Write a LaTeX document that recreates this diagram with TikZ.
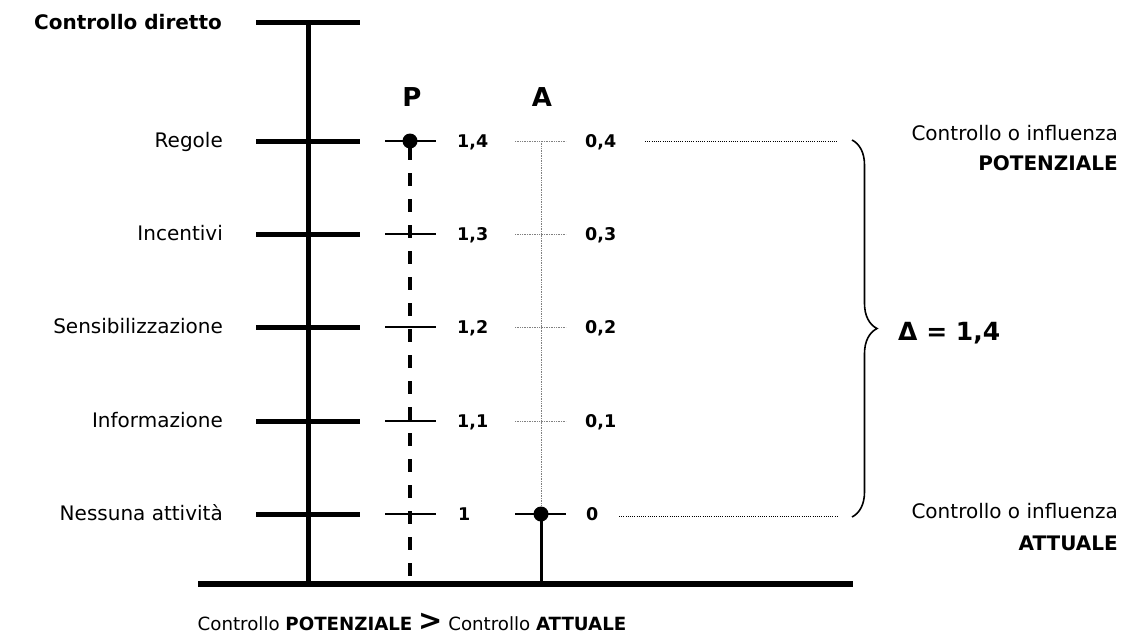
\documentclass[tikz,border=0pt]{standalone}
\usepackage{fontspec}
\setmainfont{DejaVu Sans}
\usetikzlibrary{decorations.pathreplacing}
\begin{document}
\begin{tikzpicture}[x=1pt,y=-1pt,
  lbl/.style={inner sep=0pt,font=\fontsize{20}{24}\selectfont},
  num/.style={inner sep=0pt,anchor=base west,font=\fontsize{17.5}{21}\selectfont\bfseries},
  colhead/.style={inner sep=0pt,anchor=base,font=\fontsize{26}{30}\selectfont\bfseries},
  thicktick/.style={line width=5pt},
  ptick/.style={line width=1.6pt},
  atick/.style={line width=0.8pt,gray,dash pattern=on 1pt off 0.7pt},
  guide/.style={line width=0.9pt,dash pattern=on 1pt off 1.2pt},
  dot/.style={circle,fill=black,inner sep=0pt,minimum size=15pt}]
\useasboundingbox (0,0) rectangle (1132,635);

% rows
\foreach \n/\y in {r4/141,r3/234,r2/327,r1/421,r0/514}{
  \coordinate (L\n) at (256,\y);
  \coordinate (R\n) at (360,\y);
  \coordinate (PL\n) at (385,\y);
  \coordinate (PR\n) at (436,\y);
  \coordinate (AL\n) at (515,\y);
  \coordinate (AR\n) at (566,\y);
}
\coordinate (Ltop) at (256,22);
\coordinate (Rtop) at (360,22);
\coordinate (mtop) at (308,22);
\coordinate (mbot) at (308,584);
\coordinate (base0) at (198,584);
\coordinate (base1) at (853,584);
\coordinate (Ptop) at (410,141);
\coordinate (Pbot) at (410,584);
\coordinate (Atop) at (541,141);
\coordinate (Amid) at (541,514);
\coordinate (Abot) at (541,584);

% main axis
\draw[line width=6pt] (base0) -- (base1);
\draw[line width=5pt] (mtop) -- (mbot);
\draw[thicktick] (Ltop) -- (Rtop);
\foreach \n in {r4,r3,r2,r1,r0}{\draw[thicktick] (L\n) -- (R\n);}

% left labels
\node[lbl,anchor=base east,font=\fontsize{20}{24}\selectfont\bfseries] (cd) at (222,29) {Controllo diretto};
\node[lbl,anchor=base east] (lr4) at (223,147) {Regole};
\node[lbl,anchor=base east] (lr3) at (223,240) {Incentivi};
\node[lbl,anchor=base east] (lr2) at (223,333) {Sensibilizzazione};
\node[lbl,anchor=base east] (lr1) at (223,427) {Informazione};
\node[lbl,anchor=base east] (lr0) at (223,520) {Nessuna attività};

% P column
\node[colhead] (P) at (412,106) {P};
\draw[line width=4pt,dash pattern=on 13pt off 13pt,dash phase=-6pt] (Ptop) -- (Pbot);
\foreach \n in {r4,r3,r2,r1,r0}{\draw[ptick] (PL\n) -- (PR\n);}
\node[dot] (pdot) at (Ptop) {};

% A column
\node[colhead] (A) at (542,106) {A};
\draw[atick] (Atop) -- (Amid);
\foreach \n in {r4,r3,r2,r1}{\draw[atick] (AL\n) -- (AR\n);}
\draw[line width=3pt] (Amid) -- (Abot);
\draw[ptick] (ALr0) -- (ARr0);
\node[dot] (adot) at (Amid) {};

% numbers
\node[num] (p4) at (457,147) {1,4};
\node[num] (p3) at (457,240) {1,3};
\node[num] (p2) at (457,333) {1,2};
\node[num] (p1) at (457,427) {1,1};
\node[num] (p0) at (458,520) {1};
\node[num] (a4) at (585,147) {0,4};
\node[num] (a3) at (585,240) {0,3};
\node[num] (a2) at (585,333) {0,2};
\node[num] (a1) at (585,427) {0,1};
\node[num] (a0) at (586,520) {0};

% guides to brace
\coordinate (g4a) at (645,141);
\coordinate (g4b) at (838,141);
\coordinate (g0a) at (619,516);
\coordinate (g0b) at (838,516);
\draw[guide] (g4a) -- (g4b);
\draw[guide] (g0a) -- (g0b);

% brace
\coordinate (bt) at (852,140);
\coordinate (bb) at (852,517);
\draw[line width=1.6pt,decorate,decoration={brace,amplitude=25pt}] (bt) -- (bb);

% right labels
\node[lbl,anchor=base east] (rp1) at (1118,140) {Controllo o influenza};
\node[lbl,anchor=base east,font=\fontsize{20}{24}\selectfont\bfseries] (rp2) at (1118,170) {POTENZIALE};
\node[lbl,anchor=base east] (ra1) at (1118,518) {Controllo o influenza};
\node[lbl,anchor=base east,font=\fontsize{20}{24}\selectfont\bfseries] (ra2) at (1118,550) {ATTUALE};
\node[inner sep=0pt,anchor=base west,font=\fontsize{25}{30}\selectfont\bfseries] (delta) at (898,340) {Δ = 1,4};

% bottom caption
\node[inner sep=0pt,anchor=base,font=\fontsize{18.2}{21}\selectfont] (cap) at (412,630)
  {Controllo \textbf{POTENZIALE} {\fontsize{29}{29}\selectfont\bfseries >} Controllo \textbf{ATTUALE}};
\end{tikzpicture}
\end{document}
